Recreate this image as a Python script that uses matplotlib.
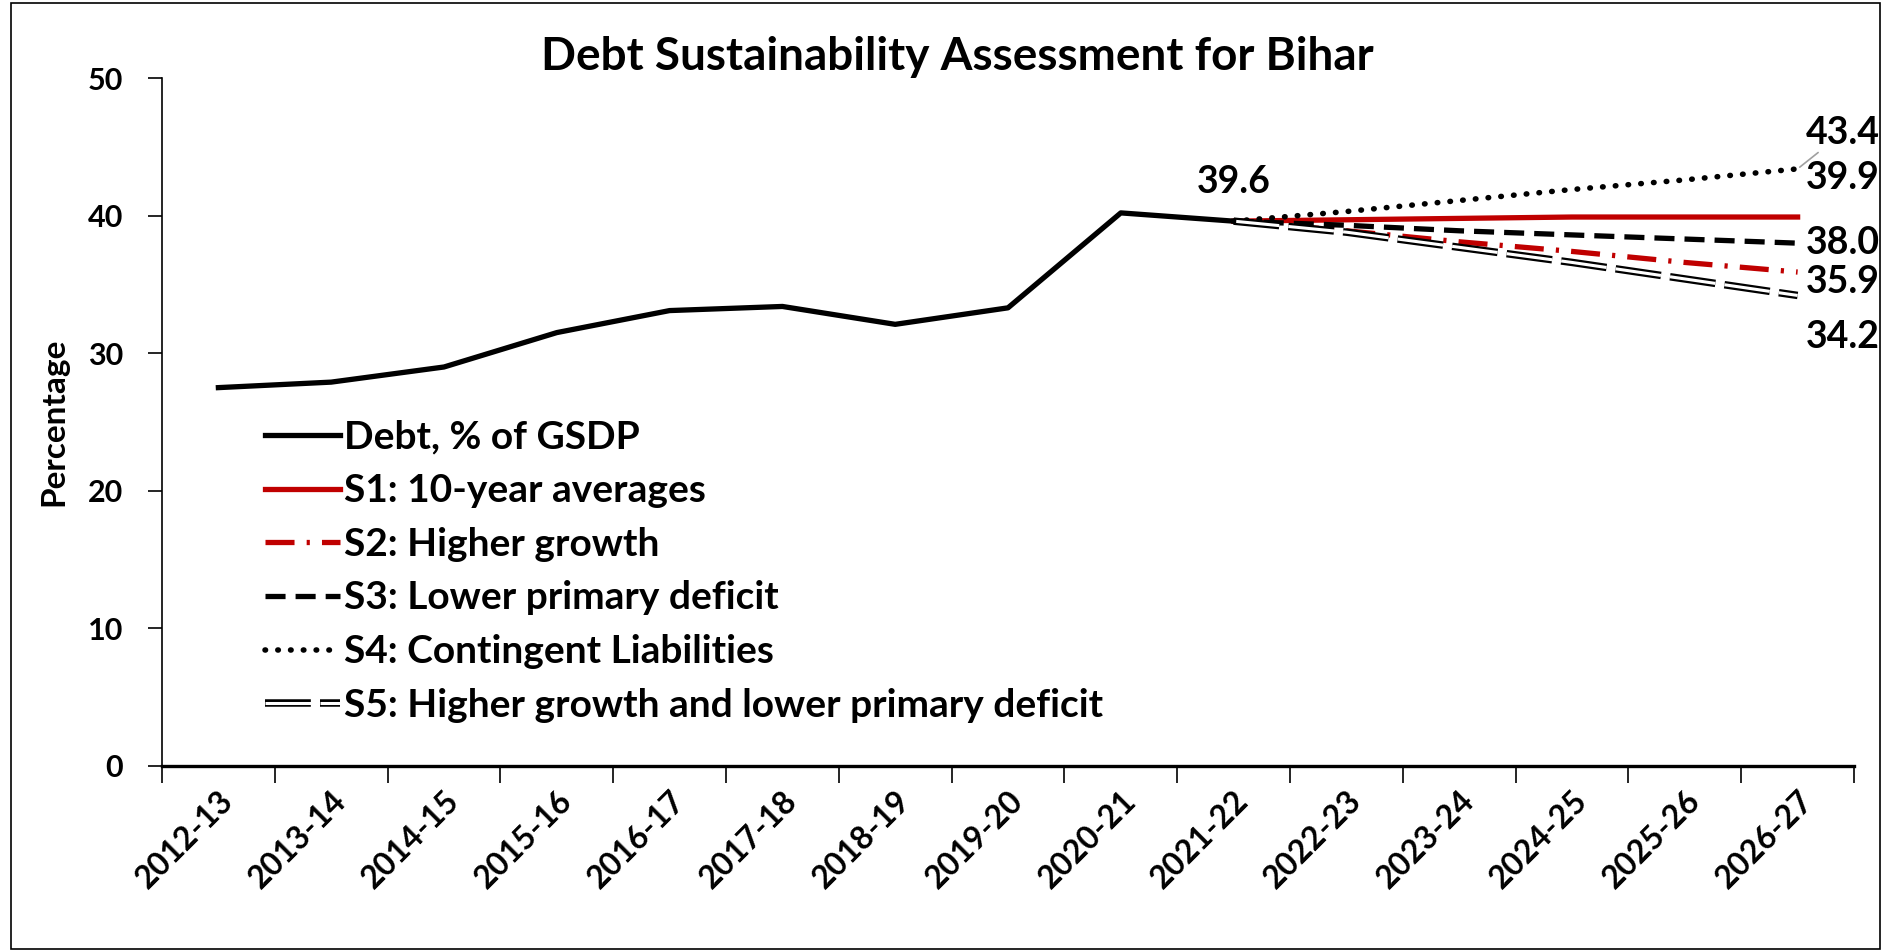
import matplotlib
matplotlib.use("agg")
import matplotlib.pyplot as plt
import matplotlib.patheffects as pe
from matplotlib.patches import Rectangle

plt.rcParams['font.family'] = ['Lato', 'DejaVu Sans']
plt.rcParams['font.weight'] = 'bold'

years = ['2012-13', '2013-14', '2014-15', '2015-16', '2016-17', '2017-18', '2018-19',
         '2019-20', '2020-21', '2021-22', '2022-23', '2023-24', '2024-25', '2025-26', '2026-27']

debt = [27.5, 27.9, 29.0, 31.5, 33.1, 33.4, 32.1, 33.3, 40.2, 39.6]

# scenarios run from 2021-22 to 2026-27
s1 = [39.6, 39.7, 39.8, 39.9, 39.9, 39.9]
s2 = [39.6, 38.9, 38.1, 37.4, 36.6, 35.9]
s3 = [39.6, 39.3, 38.9, 38.6, 38.3, 38.0]
s4 = [39.6, 40.3, 41.1, 41.9, 42.6, 43.4]
s5 = [39.6, 38.8, 37.7, 36.6, 35.4, 34.2]

labels = ['Debt, % of GSDP', 'S1: 10-year averages', 'S2: Higher growth',
          'S3: Lower primary deficit', 'S4: Contingent Liabilities',
          'S5: Higher growth and lower primary deficit']

red = '#C00000'
x = list(range(len(years)))
xs = x[9:]

fig = plt.figure(figsize=(18.88, 9.52), dpi=100)
ax = fig.add_axes([0.0858, 0.1954, 0.8962, 0.7226])

ax.plot(x[:len(debt)], debt, color='black', lw=3.8, label=labels[0], zorder=5)
ax.plot(xs, s1, color=red, lw=3.8, label=labels[1])
ax.plot(xs, s2, color=red, lw=3.8, ls=(0, (5.5, 2.3, 0.6, 2.3)), label=labels[2])
ax.plot(xs, s3, color='black', lw=3.8, ls=(0, (3.8, 1.9)), label=labels[3])
ax.plot(xs, s4, color='black', lw=4, ls=(0, (0.1, 2.2)), dash_capstyle='round', label=labels[4])
ax.plot(xs, s5, color='white', lw=2.2, ls=(0, (15, 3)), label=labels[5],
        path_effects=[pe.Stroke(linewidth=5.4, foreground='black'), pe.Normal()])

ax.set_xlim(-0.5, len(years) - 0.5)
ax.set_ylim(0, 50)
ax.set_yticks(range(0, 51, 10))
ax.set_xticks([i - 0.5 for i in range(len(years) + 1)])
ax.set_xticklabels([])
ax.set_xticks(x, minor=True)
ax.set_xticklabels(years, minor=True, rotation=45, ha='right', rotation_mode='anchor', fontsize=23)
ax.tick_params(axis='x', which='major', length=12, width=1.2, direction='out')
ax.tick_params(axis='x', which='minor', length=0, pad=14)
ax.tick_params(axis='y', length=10, width=1.2, labelsize=22, pad=18)
for sp in ['top', 'right']:
    ax.spines[sp].set_visible(False)
ax.spines['bottom'].set_linewidth(2.4)
ax.spines['left'].set_linewidth(1.2)

ax.set_ylabel('Percentage', fontsize=24, fontweight='bold', labelpad=14)
fig.text(0.507, 0.94, 'Debt Sustainability Assessment for Bihar', ha='center', va='center',
         fontsize=33, fontweight='bold')

# data labels
ax.annotate(f'{debt[-1]:.1f}', (x[len(debt) - 1], debt[-1]), xytext=(0, 28),
            textcoords='offset points', ha='center', va='center', fontsize=27)
ends = [(s4, 26, True), (s1, 28, False), (s3, 0, False), (s2, -7, False), (s5, -30, False)]
for series, dy, lead in ends:
    props = dict(arrowstyle='-', color='#A0A0A0', lw=1.2, shrinkA=0, shrinkB=2) if lead else None
    ax.annotate(f'{series[-1]:.1f}', (xs[-1], series[-1]), xytext=(6, dy),
                textcoords='offset points', ha='left', va='center', fontsize=27,
                arrowprops=props, annotation_clip=False)

ax.legend(loc='upper left', bbox_to_anchor=(0.056, 0.515), frameon=False, fontsize=28,
          handlelength=1.95, handletextpad=0.1, labelspacing=0.48, borderpad=0.2,
          borderaxespad=0)

fig.patches.append(Rectangle((0.006, 0.003), 0.99, 0.994, transform=fig.transFigure,
                             fill=False, edgecolor='black', lw=1.2))

fig.savefig('out.png', dpi=100)
